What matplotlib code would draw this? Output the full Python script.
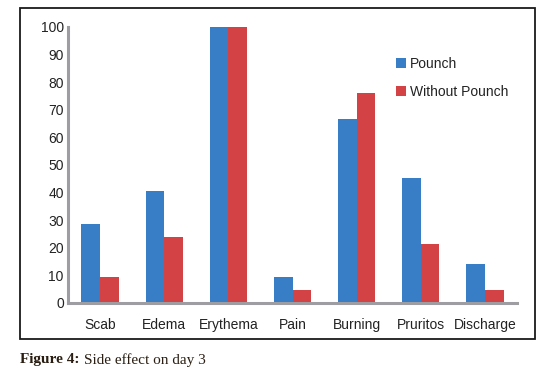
import matplotlib
matplotlib.use("Agg")
import matplotlib.pyplot as plt
import numpy as np
from matplotlib.patches import Rectangle

categories = ["Scab", "Edema", "Erythema", "Pain", "Burning", "Pruritos", "Discharge"]
pounch = [28.6, 40.5, 100, 9.5, 66.5, 45.2, 14.3]
without_pounch = [9.5, 23.8, 100, 4.8, 76.2, 21.2, 4.8]
yticks = [0, 10, 20, 30, 40, 50, 60, 70, 80, 90, 100]

blue = "#377ec6"
red = "#d34244"
spine_gray = "#9e9ea2"

W, H = 557, 385
fig = plt.figure(figsize=(W / 100, H / 100), dpi=100)
plt.rcParams['font.family'] = ['Liberation Sans', 'DejaVu Sans']

# outer frame
fig.patches.append(Rectangle((20 / W, 1 - 339 / H), 515 / W, 331 / H,
                             transform=fig.transFigure, fill=False,
                             edgecolor="#1a1a1a", linewidth=1.3))

ax = fig.add_axes([68 / W, 1 - 303 / H, 449 / W, 276 / H])
x = np.arange(len(categories))
w = 0.29
ax.bar(x - w / 2, pounch, w, color=blue, label="Pounch")
ax.bar(x + w / 2, without_pounch, w, color=red, label="Without Pounch")
ax.set_xlim(-0.5, len(categories) - 0.5)
ax.set_ylim(0, 100)
ax.set_yticks(yticks)
ax.set_xticks(x)
ax.set_xticklabels(categories, fontsize=10, color="#222222")
ax.tick_params(axis='y', labelsize=10, labelcolor="#222222", length=0, pad=3)
ax.tick_params(axis='x', length=0, pad=11)
for s in ["top", "right"]:
    ax.spines[s].set_visible(False)
for s in ["left", "bottom"]:
    ax.spines[s].set_color(spine_gray)
    ax.spines[s].set_linewidth(2.2)

leg = ax.legend(loc="upper left", bbox_to_anchor=(0.703, 0.938), frameon=False,
                fontsize=10, handlelength=0.7, handleheight=0.7,
                handletextpad=0.3, labelspacing=1.0)
for t in leg.get_texts():
    t.set_color("#222222")

fig.text(20 / W, 1 - 360 / H, "Figure 4:", fontsize=11, fontweight="bold",
         family="Liberation Serif", color="#2a1e12", va="center", ha="left")
fig.text(84 / W, 1 - 360 / H, "Side effect on day 3", fontsize=11,
         family="Liberation Serif", color="#2a1e12", va="center", ha="left")

fig.savefig("out.png", dpi=100)
